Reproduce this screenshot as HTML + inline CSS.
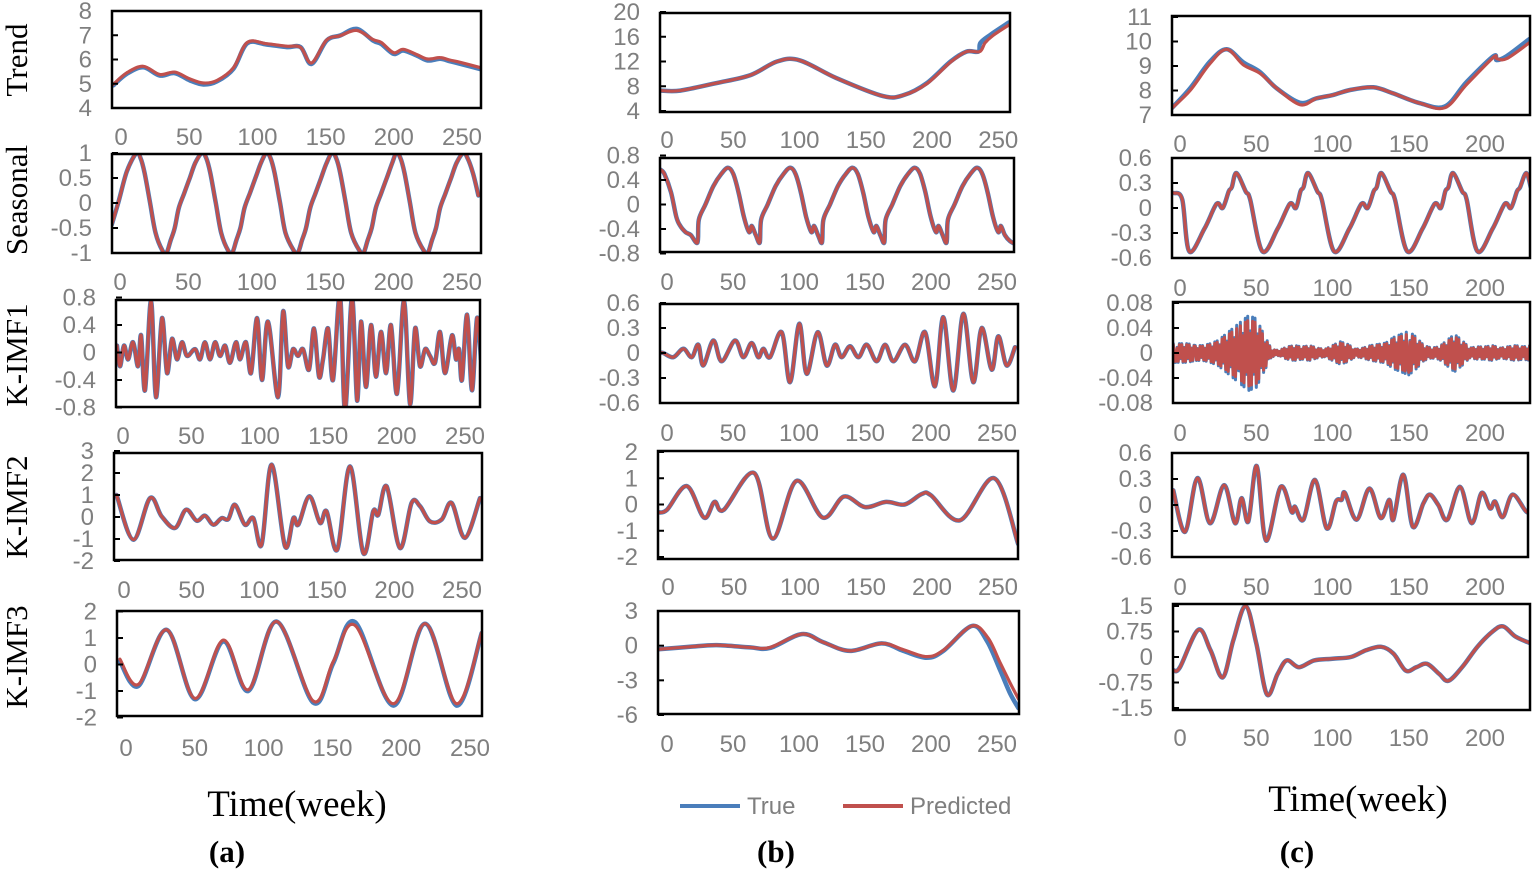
<!DOCTYPE html>
<html><head><meta charset="utf-8">
<style>
html,body{margin:0;padding:0;background:#fff;}
svg{display:block;}
.tk{font-family:"Liberation Sans",sans-serif;font-size:24px;fill:#7f7f7f;}
.rt{font-family:"Liberation Serif",serif;font-size:31px;fill:#000;}
.tt{font-family:"Liberation Serif",serif;font-size:37px;fill:#000;}
.pl{font-family:"Liberation Serif",serif;font-size:31px;font-weight:bold;fill:#000;}
</style></head>
<body>
<svg id="fig" width="1535" height="872" viewBox="0 0 1535 872" xmlns="http://www.w3.org/2000/svg">
<text class="rt" transform="translate(27,60) rotate(-90)" text-anchor="middle">Trend</text>
<text class="rt" transform="translate(27,200) rotate(-90)" text-anchor="middle">Seasonal</text>
<text class="rt" transform="translate(27,355) rotate(-90)" text-anchor="middle">K-IMF1</text>
<text class="rt" transform="translate(27,507) rotate(-90)" text-anchor="middle">K-IMF2</text>
<text class="rt" transform="translate(27,657) rotate(-90)" text-anchor="middle">K-IMF3</text>
<text class="tt" x="297" y="816" text-anchor="middle">Time(week)</text>
<text class="tt" x="1358" y="811" text-anchor="middle">Time(week)</text>
<text class="pl" x="227" y="862" text-anchor="middle">(a)</text>
<text class="pl" x="776" y="862" text-anchor="middle">(b)</text>
<text class="pl" x="1297" y="862" text-anchor="middle">(c)</text>
<g>
<line x1="680" y1="806" x2="740" y2="806" stroke="#4a7ebb" stroke-width="4"/>
<text class="tk" x="747" y="814">True</text>
<line x1="843" y1="806" x2="903" y2="806" stroke="#c0504d" stroke-width="4"/>
<text class="tk" x="910" y="814">Predicted</text>
</g>
</svg>
<script>
const xTicksAB = [0,50,100,150,200,250];
const xTicksC = [0,50,100,150,200];

const aTrendTrue = [[-5,4.93],[5,5.41],[17,5.68],[29,5.34],[40,5.44],[51,5.14],[61,4.97],[71,5.1],[83,5.62],[93,6.67],[107,6.62],[122,6.51],[132,6.51],[140,5.82],[151,6.78],[161,6.99],[173,7.26],[185,6.78],[191,6.64],[200,6.23],[207,6.37],[217,6.16],[225,5.96],[234,6.03],[241,5.93],[249,5.82],[265,5.58]];
const aTrendPred = [[-5,4.97],[5,5.45],[17,5.72],[29,5.38],[40,5.48],[51,5.2],[61,5.03],[71,5.14],[83,5.66],[93,6.7],[107,6.65],[122,6.55],[132,6.5],[140,5.86],[151,6.8],[161,6.98],[173,7.2],[185,6.82],[191,6.7],[200,6.28],[207,6.42],[217,6.2],[225,6.02],[234,6.08],[241,5.98],[249,5.88],[265,5.64]];
const aSeasonal = [[-6,-0.43],[-1,0.03],[5,0.63],[12,1],[15,0.9],[18,0.6],[22,0],[26,-0.6],[31,-0.95],[34,-1],[37,-0.75],[40,-0.5],[43,-0.1],[47,0.2],[51,0.5],[55,0.8],[60,1],[63,0.9],[66,0.6],[70,0],[74,-0.6],[79,-0.95],[82,-1],[85,-0.75],[88,-0.5],[91,-0.1],[95,0.2],[99,0.5],[103,0.8],[107,1],[110,0.9],[113,0.6],[117,0],[121,-0.6],[127,-0.95],[130,-1],[133,-0.75],[136,-0.5],[139,-0.1],[143,0.2],[147,0.5],[151,0.8],[155,1],[158,0.9],[161,0.6],[165,0],[169,-0.6],[175,-0.95],[178,-1],[181,-0.75],[184,-0.5],[187,-0.1],[191,0.2],[195,0.5],[199,0.8],[202,1],[205,0.9],[208,0.6],[212,0],[216,-0.6],[222,-0.95],[225,-1],[228,-0.75],[231,-0.5],[234,-0.1],[238,0.2],[242,0.5],[246,0.8],[251,1],[254,0.9],[258,0.6],[262,0.15]];
const aImf1 = [[-4.4,0.1],[-2.2,-0.2],[0.7,0.1],[3.7,-0.1],[7.3,0.15],[11,-0.2],[13.2,0.25],[16.1,-0.55],[20.5,0.75],[24.1,-0.65],[28.5,0.5],[32.2,-0.3],[35.8,0.2],[39.5,-0.1],[43.1,0.15],[46.8,-0.05],[52.6,0.05],[56.3,-0.1],[59.9,0.15],[63.6,-0.1],[67.3,0.15],[70.9,-0.05],[74.6,0.1],[78.2,-0.15],[82.6,0.15],[85.5,-0.1],[89.9,0.15],[93.6,-0.3],[98,0.5],[101.6,-0.4],[106,0.45],[113.3,-0.65],[117,0.6],[120.6,-0.2],[124.3,0.05],[127.9,-0.05],[131.6,0.05],[136,-0.25],[139.6,0.35],[143.3,-0.35],[146.2,-0.1],[149.9,0.35],[153.5,-0.4],[158.6,0.85],[162.3,-0.85],[167.4,0.8],[171.1,-0.7],[174,0.45],[177.6,-0.5],[181.3,0.4],[184.9,-0.35],[188.6,0.3],[192.3,-0.3],[195.9,0.4],[200.3,-0.6],[205.4,0.75],[209.8,-0.75],[213.5,0.35],[217.1,-0.2],[220.8,0.05],[224.4,-0.05],[228.1,-0.15],[231.7,0.3],[235.4,-0.3],[240.5,0.25],[243.4,-0.1],[245.6,0.05],[247.8,-0.4],[251.5,0.55],[255.1,-0.55],[258.8,0.5],[261.7,-0.1]];
const aImf2 = [[-5.4,1.0],[6.8,-1.03],[19,0.86],[27.5,0.03],[37.3,-0.5],[45.3,0.33],[53.1,-0.17],[59.2,0.06],[65.3,-0.35],[71.4,-0.05],[76.2,-0.1],[81.1,0.56],[88.4,-0.35],[94.5,-0.05],[100.6,-1.26],[107.9,2.38],[117.7,-1.33],[123.8,-0.05],[127.4,-0.35],[135.5,0.94],[143.3,-0.27],[148.1,0.26],[155.9,-1.48],[165.2,2.3],[174.9,-1.64],[182.2,0.26],[185.9,0.1],[192,1.39],[201.7,-1.41],[210.2,0.64],[216.3,0.5],[223.6,-0.2],[232.2,-0.12],[239.5,0.64],[249.2,-0.95],[260.2,0.86]];
const aImf3True = [[-4.4,0.12],[9,-0.81],[29.6,1.31],[50.1,-1.31],[70.7,0.87],[88.9,-1.0],[109.5,1.62],[136.1,-1.44],[150.7,0.06],[166.4,1.6],[194.3,-1.55],[217.3,1.54],[240.3,-1.55],[258.5,1.19]];
const aImf3Pred = [[-4.4,0.2],[9,-0.75],[29.6,1.31],[50.1,-1.28],[70.7,0.92],[88.9,-0.95],[109.5,1.62],[136.1,-1.38],[150.7,0.12],[166.4,1.48],[194.3,-1.48],[217.3,1.54],[240.3,-1.48],[258.5,1.2]];

const bTrendTrue = [[-5,7.3],[10,7.3],[37,8.5],[63,9.8],[83,12],[100,12.2],[128,9.3],[163,6.4],[179,6.6],[196,8.5],[214,12],[226,13.6],[235,13.6],[236.5,15],[244,16.3],[258,18.3]];
const bTrendPred = [[-5,7.3],[10,7.3],[37,8.5],[63,9.8],[83,12],[100,12.2],[128,9.3],[163,6.4],[179,6.6],[196,8.4],[214,11.9],[226,13.6],[236,13.6],[240,15],[246,16.2],[258,17.9]];
const bSeasonal = [[-5,0.57],[-2,0.5],[3,0.2],[7,-0.2],[10,-0.35],[14,-0.45],[18,-0.5],[23,-0.62],[24,-0.25],[29,0],[35,0.3],[41,0.5],[46,0.6],[50,0.5],[54,0.2],[58,-0.2],[62,-0.45],[64,-0.35],[67,-0.5],[70,-0.62],[71,-0.25],[76,0],[82,0.3],[88,0.5],[93,0.6],[97,0.5],[101,0.2],[105,-0.2],[109,-0.45],[111,-0.35],[114,-0.5],[117,-0.62],[118,-0.25],[123,0],[129,0.3],[135,0.5],[140,0.6],[144,0.5],[148,0.2],[152,-0.2],[156,-0.45],[158,-0.35],[161,-0.5],[164,-0.62],[165,-0.25],[170,0],[176,0.3],[182,0.5],[187,0.6],[191,0.5],[195,0.2],[199,-0.2],[203,-0.45],[205,-0.35],[208,-0.5],[211,-0.62],[212,-0.25],[217,0],[223,0.3],[229,0.5],[234,0.6],[238,0.5],[242,0.2],[246,-0.2],[250,-0.45],[252,-0.35],[255,-0.5],[259,-0.6],[264,-0.66]];
const bImf1 = [[-5,0],[-2.8,0],[4.8,-0.05],[12.4,0.05],[18.7,-0.05],[23.7,0.1],[27.5,-0.15],[35.1,0.15],[41.4,-0.1],[51.5,0.15],[57.8,-0.05],[64.1,0.12],[69.2,-0.05],[73,0.05],[78,-0.05],[86.9,0.25],[93.2,-0.35],[100.2,0.35],[105.8,-0.25],[114.1,0.25],[121,-0.15],[127.3,0.1],[132.3,-0.05],[138.6,0.08],[145,-0.05],[151.3,0.1],[158.8,-0.1],[165.2,0.1],[171.5,-0.1],[180.3,0.1],[187.9,-0.1],[195.5,0.25],[203,-0.4],[209.3,0.43],[216.9,-0.45],[224.5,0.47],[232,-0.35],[238.4,0.3],[246,-0.2],[251,0.2],[257.3,-0.15],[263.6,0.07]];
const bImf2 = [[-7,-0.3],[0,-0.2],[15,0.7],[28,-0.5],[36,0.1],[43,-0.2],[66,1.2],[80,-1.3],[98,0.9],[118,-0.5],[134,0.3],[150,-0.1],[166,0.1],[180,0.0],[193,0.4],[200,0.35],[222,-0.6],[248,1.0],[266,-1.5]];
const bImf3True = [[-7,-0.3],[-5.3,-0.3],[17.4,-0.1],[37.6,0.05],[62.9,-0.15],[78,-0.2],[102,1.0],[118.4,0.3],[138.6,-0.45],[162.6,0.2],[179,-0.45],[196.7,-1.05],[209.3,-0.45],[230.8,1.7],[242.2,0.45],[252.3,-2.1],[259.8,-4.1],[266.2,-5.4]];
const bImf3Pred = [[-7,-0.3],[-5.3,-0.3],[17.4,-0.1],[37.6,0.05],[62.9,-0.15],[78,-0.15],[102,1.0],[118.4,0.3],[138.6,-0.45],[162.6,0.2],[179,-0.35],[196.7,-0.95],[209.3,-0.4],[230.8,1.7],[243,0.7],[252.3,-1.45],[259.8,-3.2],[266.2,-4.6]];

const cTrendTrue = [[-5.5,7.27],[6.6,8.09],[19.7,9.18],[30.6,9.68],[41.5,9.15],[52.5,8.75],[63.4,8.09],[78.7,7.5],[89.6,7.68],[100.5,7.82],[111.5,8.02],[126.8,8.13],[139.9,7.88],[157.4,7.48],[173.8,7.35],[188,8.35],[205.5,9.4],[207.7,9.24],[214.2,9.4],[229.1,10.1]];
const cTrendPred = [[-5.5,7.27],[6.6,8.0],[19.7,9.1],[30.6,9.68],[41.5,9.05],[52.5,8.7],[63.4,8.09],[78.7,7.42],[89.6,7.68],[100.5,7.82],[111.5,8.02],[126.8,8.13],[139.9,7.88],[157.4,7.48],[173.8,7.3],[188,8.25],[205.5,9.35],[207.7,9.3],[214.2,9.3],[229.1,9.95]];
const cSeasonal = [[-4,0.18],[1.5,0.1],[6,-0.52],[16,-0.25],[24,0.05],[28,0],[32,0.2],[34,0.25],[37,0.42],[43,0.2],[46,0.1],[54,-0.52],[64,-0.25],[72,0.05],[76,0],[79,0.2],[81,0.25],[84,0.42],[90,0.2],[93,0.1],[101,-0.52],[111,-0.25],[119,0.05],[123,0],[127,0.2],[129,0.25],[132,0.42],[138,0.2],[141,0.1],[149,-0.52],[159,-0.25],[167,0.05],[171,0],[174,0.2],[176,0.25],[179,0.42],[185,0.2],[188,0.1],[195,-0.52],[205,-0.25],[213,0.05],[217,0],[221,0.2],[223,0.25],[227,0.42],[230,0.25]];
const cImf1Weeks = [0,5,10,15,20,25,30,35,40,45,50,55,60,65,70,75,80,85,90,95,100,105,110,115,120,125,130,135,140,145,150,155,160,165,170,175,180,185,190,195,200,205,210,215,220,225,230];
const cImf1Amp = [0.015,0.015,0.012,0.012,0.015,0.02,0.03,0.04,0.05,0.06,0.055,0.03,0.006,0.004,0.01,0.012,0.01,0.012,0.008,0.006,0.012,0.018,0.014,0.006,0.008,0.012,0.014,0.016,0.025,0.03,0.035,0.025,0.012,0.008,0.01,0.02,0.03,0.02,0.008,0.01,0.01,0.012,0.008,0.01,0.012,0.01,0.012];
const cImf2 = [[-4.4,0.17],[3.3,-0.31],[11.4,0.31],[19.7,-0.21],[28.9,0.23],[36.1,-0.21],[40.4,0.08],[44.8,-0.19],[50.3,0.45],[56.4,-0.41],[66,0.21],[73.2,-0.08],[75.4,-0.02],[80.9,-0.17],[88.5,0.29],[96.2,-0.27],[102.3,0.04],[106,0.06],[108.2,0.14],[115.8,-0.17],[124.2,0.19],[131.6,-0.15],[137.3,0.06],[139.9,-0.17],[146.4,0.35],[152.6,-0.25],[159.6,0.02],[163.9,0.12],[169.4,0],[175.3,-0.17],[183.6,0.21],[191.3,-0.21],[197.8,0.14],[203.3,-0.04],[206.6,0.04],[211.6,-0.14],[218.1,0.12],[227.3,-0.08],[232,-0.05]];
const cImf3 = [[-4,-0.4],[0,-0.3],[12,0.8],[20,0.2],[28,-0.6],[35,0.5],[43,1.5],[50,0.4],[57,-1.1],[64,-0.5],[70,-0.1],[78,-0.3],[88,-0.1],[100,-0.05],[112,0],[122,0.2],[132,0.3],[140,0.1],[148,-0.4],[155,-0.3],[162,-0.2],[170,-0.5],[176,-0.7],[185,-0.3],[195,0.3],[205,0.75],[212,0.9],[220,0.6],[230,0.4]];

const NS = "http://www.w3.org/2000/svg";
const svg = document.getElementById('fig');
const BLUE = "#4a7ebb", RED = "#c0504d";
let clipId = 0;

function mk(tag, attrs, parent){
  const e = document.createElementNS(NS, tag);
  for (const k in attrs) e.setAttribute(k, attrs[k]);
  (parent||svg).appendChild(e);
  return e;
}
function smoothPath(pts){
  if (pts.length < 2) return "";
  let d = "M" + pts[0][0].toFixed(1) + "," + pts[0][1].toFixed(1);
  for (let i = 0; i < pts.length - 1; i++){
    const p0 = pts[i-1] || pts[i], p1 = pts[i], p2 = pts[i+1], p3 = pts[i+2] || p2;
    const c1x = p1[0] + (p2[0]-p0[0])/6, c1y = p1[1] + (p2[1]-p0[1])/6;
    const c2x = p2[0] - (p3[0]-p1[0])/6, c2y = p2[1] - (p3[1]-p1[1])/6;
    d += " C" + c1x.toFixed(1) + "," + c1y.toFixed(1) + " " + c2x.toFixed(1) + "," + c2y.toFixed(1) + " " + p2[0].toFixed(1) + "," + p2[1].toFixed(1);
  }
  return d;
}

function panel(name, c){
  const g = mk('g', {});
  
  
  const xs = w => c.x0 + w * c.ppw;
  const ys = v => c.yp1 + (v - c.yv1) * (c.yp2 - c.yp1) / (c.yv2 - c.yv1);
  const id = 'clip' + (clipId++);
  const cp = mk('clipPath', {id: id}, g);
  mk('rect', {x: c.l, y: c.t, width: c.r - c.l, height: c.b - c.t}, cp);
  const lines = mk('g', {'clip-path': 'url(#' + id + ')'}, g);
  c.series.forEach(s => {
    let d;
    if (s.zig){
      const pts = [];
      for (let w = -6; w <= 234; w += 0.8){
        let i = 0;
        while (i < s.weeks.length - 2 && s.weeks[i+1] < w) i++;
        const w0 = s.weeks[i], w1 = s.weeks[i+1];
        const t = Math.max(0, Math.min(1, (w - w0) / (w1 - w0)));
        const a = (s.amp[i] * (1 - t) + s.amp[i+1] * t) * s.scale;
        const k = Math.round(w / 0.8);
        pts.push([xs(w), ys((k % 2 ? 1 : -1) * a * (k % 3 ? 1 : 0.6))]);
      }
      d = "M" + pts.map(p => p[0].toFixed(1) + "," + p[1].toFixed(1)).join(" L");
    } else {
      d = smoothPath(s.data.map(p => [xs(p[0]), ys(p[1])]));
    }
    const p = mk('path', {d: d, fill: 'none', stroke: s.color, 'stroke-width': s.w, 'stroke-linejoin': 'round', 'stroke-linecap': 'round'}, lines);
    
    
  });
  const box = mk('rect', {x: c.l, y: c.t, width: c.r - c.l, height: c.b - c.t, fill: 'none', stroke: '#000', 'stroke-width': 2.5}, g);
  
  
  c.yticks.forEach(v => {
    const y = ys(v);
    mk('line', {x1: c.l, x2: c.l + 6, y1: y, y2: y, stroke: '#000', 'stroke-width': 2}, g);
    const t = mk('text', {x: c.l - 20, y: y + 8, 'text-anchor': 'end', class: 'tk'}, g);
    t.textContent = String(v);
    
    
  });
  c.xticks.forEach(v => {
    const x = c.lx0 + v * c.lppw;
    const t = mk('text', {x: x, y: c.xl + 9, 'text-anchor': 'middle', class: 'tk'}, g);
    t.textContent = String(v);
    
    
  });
}

function pair(tr, pr){
  return [
    {name: 'true-line', data: tr, color: BLUE, w: 4.5},
    {name: 'predicted-line', data: pr, color: RED, w: 3.2}
  ];
}

panel('panel-a-trend', {l:112,t:11,r:481,b:108,x0:120,ppw:1.368,lx0:121,lppw:1.364,yv1:8,yp1:11,yv2:4,yp2:108,yticks:[4,5,6,7,8],xticks:xTicksAB,xl:136,series:pair(aTrendTrue,aTrendPred)});
panel('panel-a-seasonal', {l:112,t:154,r:481,b:253,x0:120,ppw:1.368,lx0:120,lppw:1.368,yv1:1,yp1:153,yv2:-1,yp2:253,yticks:[-1,-0.5,0,0.5,1],xticks:xTicksAB,xl:281,series:pair(aSeasonal,aSeasonal)});
panel('panel-a-k-imf1', {l:116,t:300,r:480,b:407,x0:123,ppw:1.368,lx0:123,lppw:1.368,yv1:0.4,yp1:325,yv2:-0.4,yp2:380,yticks:[-0.8,-0.4,0,0.4,0.8],xticks:xTicksAB,xl:435,series:pair(aImf1,aImf1)});
panel('panel-a-k-imf2', {l:114,t:453,r:482,b:560,x0:124,ppw:1.368,lx0:124,lppw:1.352,yv1:0,yp1:517,yv2:-1,yp2:539,yticks:[-2,-1,0,1,2,3],xticks:xTicksAB,xl:589,series:pair(aImf2,aImf2)});
panel('panel-a-k-imf3', {l:117,t:611,r:482,b:716,x0:126,ppw:1.376,lx0:126,lppw:1.376,yv1:1,yp1:638,yv2:-1,yp2:691,yticks:[-2,-1,0,1,2],xticks:xTicksAB,xl:747,series:pair(aImf3True,aImf3Pred)});

panel('panel-b-trend', {l:660,t:13,r:1010,b:112,x0:667,ppw:1.325,lx0:667,lppw:1.325,yv1:20,yp1:12,yv2:4,yp2:111,yticks:[4,8,12,16,20],xticks:xTicksAB,xl:139,series:pair(bTrendTrue,bTrendPred)});
panel('panel-b-seasonal', {l:660,t:158,r:1014,b:252,x0:667,ppw:1.325,lx0:667,lppw:1.32,yv1:0.4,yp1:180,yv2:-0.4,yp2:229,yticks:[-0.8,-0.4,0,0.4,0.8],xticks:xTicksAB,xl:281,series:pair(bSeasonal,bSeasonal)});
panel('panel-b-k-imf1', {l:660,t:304,r:1018,b:403,x0:667,ppw:1.32,lx0:667,lppw:1.32,yv1:0.3,yp1:328,yv2:-0.3,yp2:378,yticks:[-0.6,-0.3,0,0.3,0.6],xticks:xTicksAB,xl:432,series:pair(bImf1,bImf1)});
panel('panel-b-k-imf2', {l:658,t:451,r:1018,b:559,x0:667,ppw:1.32,lx0:668,lppw:1.32,yv1:2,yp1:452,yv2:-2,yp2:557,yticks:[-2,-1,0,1,2],xticks:xTicksAB,xl:586,series:pair(bImf2,bImf2)});
panel('panel-b-k-imf3', {l:658,t:611,r:1019,b:714,x0:667,ppw:1.32,lx0:667,lppw:1.32,yv1:3,yp1:611,yv2:-6,yp2:715,yticks:[-6,-3,0,3],xticks:xTicksAB,xl:743,series:pair(bImf3True,bImf3Pred)});

panel('panel-c-trend', {l:1172,t:16,r:1530,b:115,x0:1180,ppw:1.525,lx0:1180,lppw:1.525,yv1:11,yp1:17,yv2:7,yp2:115,yticks:[7,8,9,10,11],xticks:xTicksC,xl:143,series:pair(cTrendTrue,cTrendPred)});
panel('panel-c-seasonal', {l:1172,t:158,r:1530,b:258,x0:1180,ppw:1.525,lx0:1180,lppw:1.525,yv1:0.6,yp1:158,yv2:-0.6,yp2:258,yticks:[-0.6,-0.3,0,0.3,0.6],xticks:xTicksC,xl:287,series:pair(cSeasonal,cSeasonal)});
panel('panel-c-k-imf1', {l:1173,t:302,r:1530,b:403,x0:1180,ppw:1.525,lx0:1180,lppw:1.525,yv1:0.04,yp1:328,yv2:-0.04,yp2:378,yticks:[-0.08,-0.04,0,0.04,0.08],xticks:xTicksC,xl:432,series:[
  {name:'true-line', zig:true, weeks:cImf1Weeks, amp:cImf1Amp, scale:1.0, color:BLUE, w:3},
  {name:'predicted-line', zig:true, weeks:cImf1Weeks, amp:cImf1Amp, scale:0.88, color:RED, w:3}
]});
panel('panel-c-k-imf2', {l:1172,t:453,r:1528,b:557,x0:1180,ppw:1.525,lx0:1180,lppw:1.525,yv1:0.3,yp1:479,yv2:-0.3,yp2:531,yticks:[-0.6,-0.3,0,0.3,0.6],xticks:xTicksC,xl:586,series:pair(cImf2,cImf2)});
panel('panel-c-k-imf3', {l:1173,t:604,r:1530,b:710,x0:1180,ppw:1.525,lx0:1180,lppw:1.525,yv1:1.5,yp1:606,yv2:-1.5,yp2:708,yticks:[-1.5,-0.75,0,0.75,1.5],xticks:xTicksC,xl:737,series:pair(cImf3,cImf3)});
</script>
</body></html>
